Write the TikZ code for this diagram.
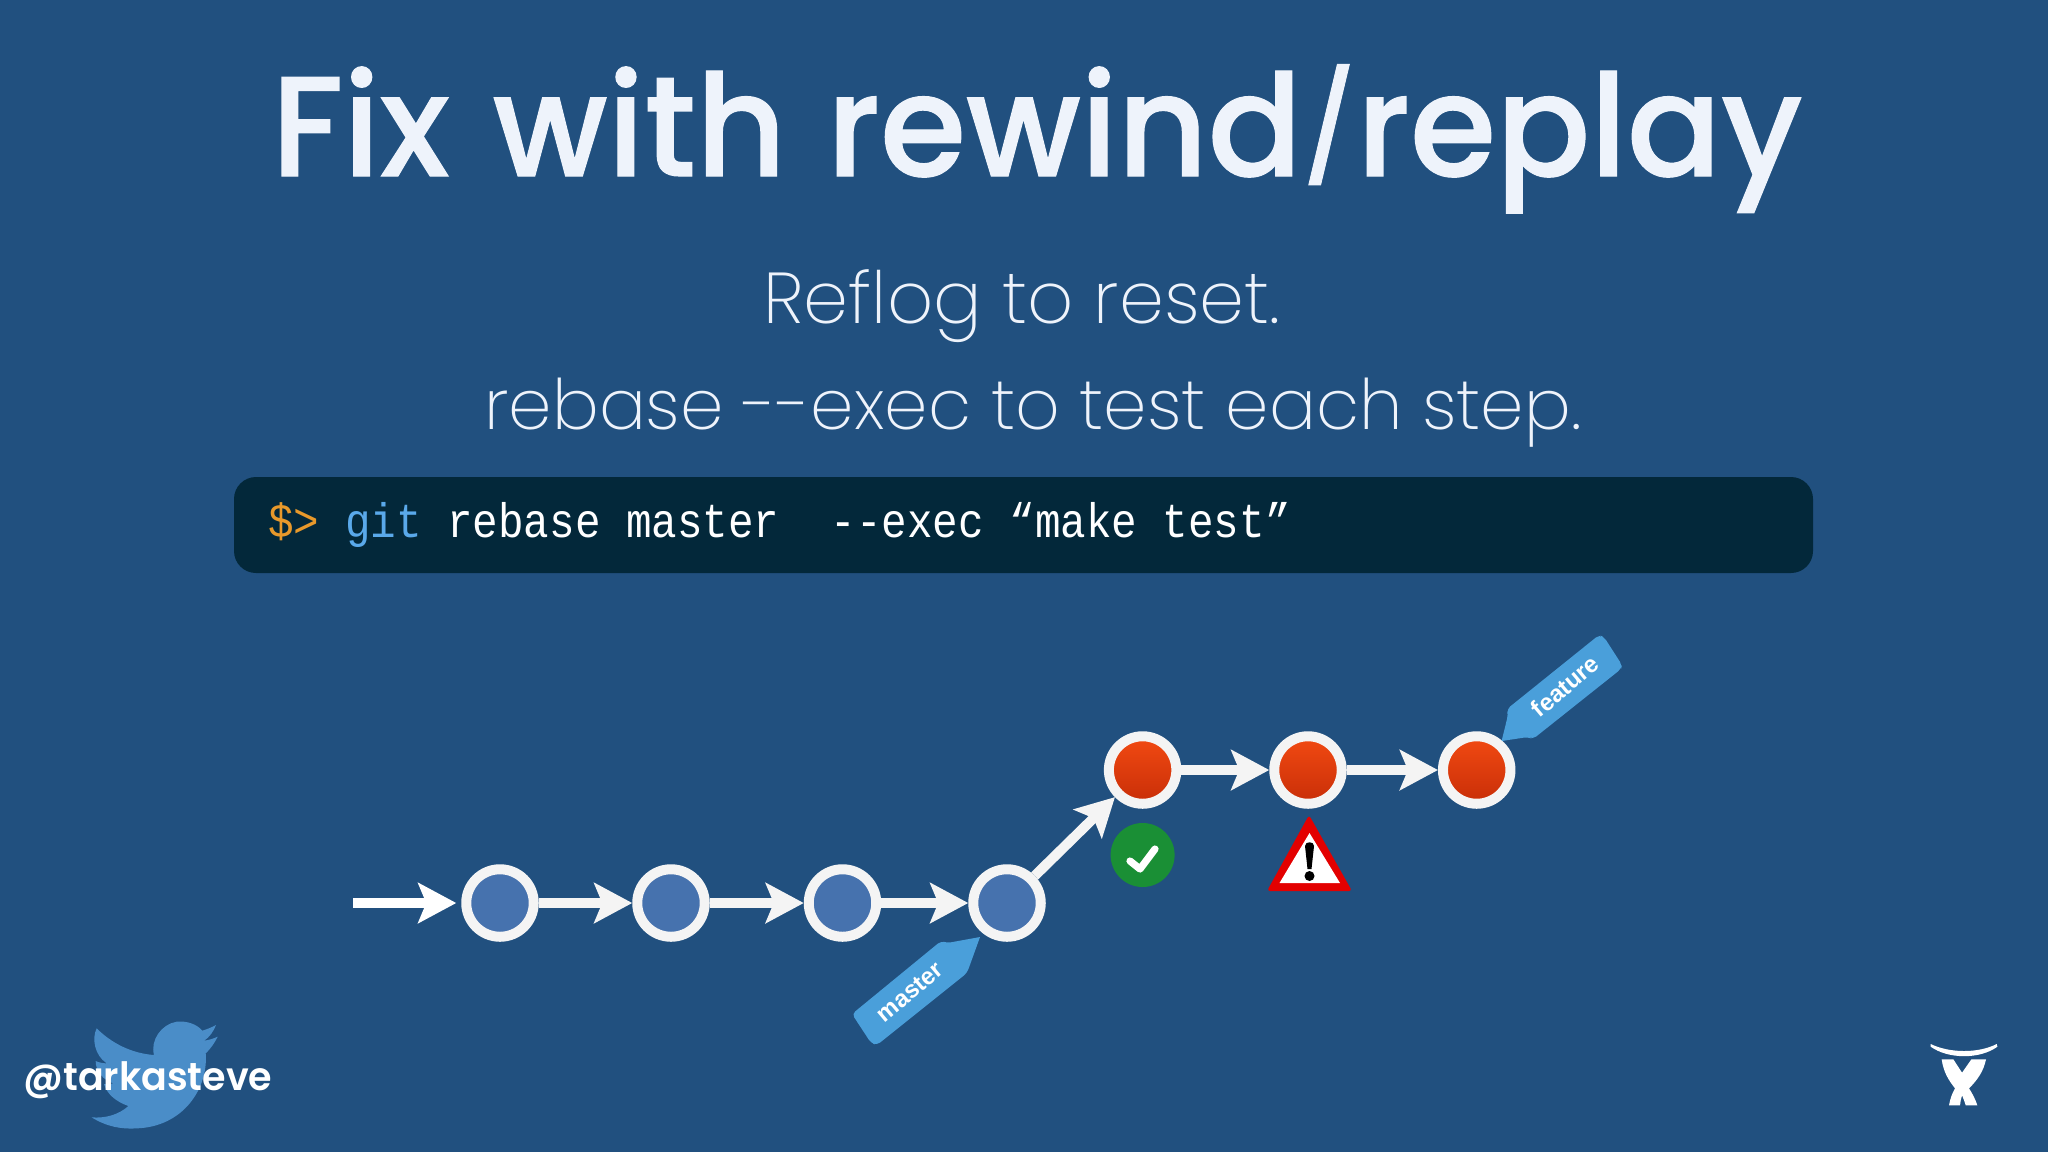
\documentclass[tikz,border=0pt]{standalone}
\usepackage{fontspec}
\usepackage{graphicx}
\usetikzlibrary{arrows.meta,shadings}
\newfontfamily\titlef{Poppins Medium}[FakeStretch=0.98,FakeBold=0.8]
\newfontfamily\subf{Poppins ExtraLight}
\newfontfamily\handlef{Poppins SemiBold}[FakeStretch=0.975]
\newfontfamily\flagf{Liberation Sans Bold}
\newfontfamily\codef{Liberation Mono}[FakeStretch=0.88]
\definecolor{bgblue}{HTML}{21507F}
\definecolor{ring}{HTML}{F4F4F4}
\definecolor{commitblue}{HTML}{4672AE}
\definecolor{flagblue}{HTML}{4A9FDA}
\definecolor{birdblue}{HTML}{4A8DC8}
\definecolor{codebg}{HTML}{03283A}
\definecolor{titlewhite}{HTML}{EEF3FB}
\definecolor{gitblue}{HTML}{5AA9EA}
\definecolor{promptorange}{HTML}{E8992B}
\definecolor{redtop}{HTML}{F24A12}
\definecolor{redbottom}{HTML}{C82E08}
\definecolor{okgreen}{HTML}{1A8F35}
\definecolor{warnred}{HTML}{E30000}
\tikzset{
  commit/.style={circle,draw=ring,line width=5pt,minimum size=33.75pt,inner sep=0pt},
  oldc/.style={commit,fill=commitblue},
  newc/.style={commit,top color=redtop,bottom color=redbottom},
  conn/.style={draw=ring,line width=5pt,-{Stealth[length=19pt,width=20pt,inset=4pt]}},
  flag/.style={fill=flagblue},
  flagtext/.style={text=white,font=\flagf\fontsize{12}{13}\selectfont,rotate=40,inner sep=0pt},
  headline/.style={text=titlewhite,font=\titlef\fontsize{71}{80}\selectfont,anchor=base,inner sep=0pt},
  subline/.style={text=titlewhite,anchor=base,inner sep=0pt},
}
\begin{document}
\begin{tikzpicture}[x=0.5pt,y=-0.5pt]
\useasboundingbox (0,0) rectangle (2048,1152);
\fill[bgblue] (0,0) rectangle (2048,1152);
% title
\node[headline] (title) at (1037,176) {Fix\hspace{0.05em} with\hspace{0.03em} rewind\raisebox{0.07em}{\scalebox{0.76}{/}}replay};
\node[subline,font=\subf\fontsize{36}{40}\selectfont] (sub1) at (1022,323) {Reflog to reset.};
\node[subline,font=\subf\fontsize{34.8}{40}\selectfont] (sub2) at (1033,429) {rebase --exec to test each step.};
% code bar
\fill[codebg,rounded corners=11pt] (234,477) rectangle (1813,573);
\node[anchor=base west,inner sep=0pt,font=\codef\fontsize{24.2}{24}\selectfont,text=white] (code) at (268,537)
  {\textcolor{promptorange}{\$>} \textcolor{gitblue}{git} rebase master\ \ --exec “make test”};
% commits
\node[oldc] (c1) at (500,903) {};
\node[oldc] (c2) at (671,903) {};
\node[oldc] (c3) at (842.5,903) {};
\node[oldc] (c4) at (1007,903) {};
\node[newc] (c5) at (1142.6,770) {};
\node[newc] (c6) at (1308,770) {};
\node[newc] (c7) at (1476.7,770) {};
\coordinate (start) at (353,903);
\draw[conn,draw=white,shorten >=2.5pt] (start) -- (c1);
\draw[conn] (c1) -- (c2);
\draw[conn] (c2) -- (c3);
\draw[conn] (c3) -- (c4);
\draw[conn] (c4) -- (c5);
\draw[conn] (c5) -- (c6);
\draw[conn] (c6) -- (c7);
% master flag
\fill[flag,rounded corners=2pt] (941,941) -- (947,943) [sharp corners] -- (980,937) [rounded corners=2pt] -- (967,973) -- (877,1045) -- (871,1043) -- (852,1014) -- cycle;
\node[flagtext] (master) at (910,992) {master};
% feature flag
\fill[flag,rounded corners=2pt] (1508,715) -- (1507,709) -- (1599,635) -- (1604,637) -- (1622,665) -- (1621,669) -- (1533,739) -- (1528,737) [sharp corners] -- (1501.6,741) [rounded corners=2pt] -- cycle;
\node[flagtext] (feature) at (1565,686) {feature};
% check badge
\fill[okgreen] (1142.6,855) circle (16pt);
\draw[white,line width=3.6pt,line cap=round,line join=round] (1130,861) -- (1140,869) -- (1155,849);
% warning triangle
\fill[warnred,rounded corners=1.5pt] (1309,815) -- (1352,891) -- (1267,891) -- cycle;
\fill[white] (1309.5,833) -- (1340,883) -- (1279.5,883) -- cycle;
\fill[black] (1305,846) .. controls (1305,841) and (1314,841) .. (1314,846) -- (1311.5,869) -- (1307.5,869) -- cycle;
\fill[black] (1309.5,876) circle (2.5pt);
% twitter bird
\begin{scope}[shift={(0,1000)},x=0.1667pt,y=-0.1667pt]
\fill[birdblue] (648,75) .. controls (635,82) and (620,88) .. (607,92)
  .. controls (590,72) and (560,62) .. (530,65)
  .. controls (485,72) and (450,120) .. (462,165)
  .. controls (395,160) and (335,130) .. (290,85)
  .. controls (275,115) and (283,165) .. (320,190)
  .. controls (308,190) and (296,187) .. (287,183)
  .. controls (287,215) and (310,240) .. (340,250)
  .. controls (330,253) and (320,253) .. (312,252)
  .. controls (322,285) and (350,305) .. (385,318)
  .. controls (355,345) and (315,355) .. (275,352)
  .. controls (320,380) and (365,388) .. (410,385)
  .. controls (550,380) and (625,265) .. (617,160)
  .. controls (630,148) and (643,130) .. (653,110)
  .. controls (640,116) and (626,120) .. (612,122)
  .. controls (628,112) and (640,95) .. (648,75) -- cycle;
\end{scope}
\node[anchor=base west,inner sep=0pt,text=white,font=\handlef\fontsize{19.5}{24}\selectfont] (handle) at (23,1090) {@tarkasteve};
% atlassian logo
\begin{scope}[shift={(1900,1020)},x=0.1667pt,y=-0.1667pt]
\fill[white] (92,72) .. controls (150,100) and (235,100) .. (290,72) -- (292,80)
  .. controls (240,118) and (145,118) .. (92,80) -- cycle;
\fill[white] (125,118) -- (160,118) -- (186,158) -- (214,118) -- (258,118)
  .. controls (250,155) and (232,180) .. (207,205)
  .. controls (218,222) and (226,238) .. (232,256) -- (197,256)
  .. controls (194,245) and (190,235) .. (186,226)
  .. controls (183,235) and (181,245) .. (180,256) -- (147,256)
  .. controls (150,238) and (156,220) .. (165,205)
  .. controls (145,180) and (130,155) .. (125,118) -- cycle;
\end{scope}
\end{tikzpicture}
\end{document}
